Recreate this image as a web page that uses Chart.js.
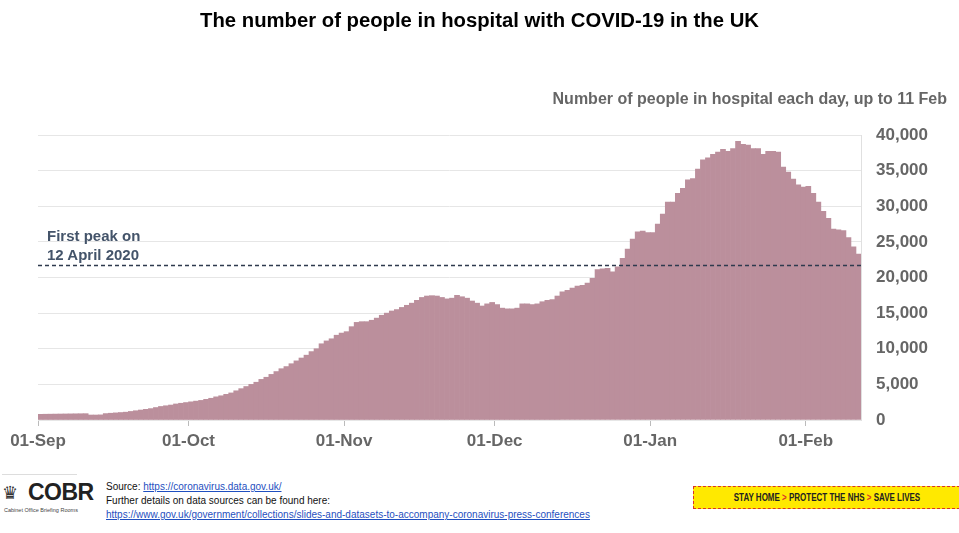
<!DOCTYPE html>
<html>
<head>
<meta charset="utf-8">
<script src="https://cdn.jsdelivr.net/npm/chart.js@4.4.1/dist/chart.umd.min.js"></script>
<style>
  body { margin: 0; width: 959px; height: 533px; background: #fff; font-family: "Liberation Sans", Arial, sans-serif; position: relative; overflow: hidden; }
  #wrap { position: absolute; left: 0; top: 0; width: 959px; height: 460px; }
  .abs { position: absolute; white-space: nowrap; }
  #title { left: 0; width: 959px; top: 9px; text-align: center; font-weight: bold; font-size: 20.3px; color: #000; }
  #subtitle { right: 12px; top: 90px; font-weight: bold; font-size: 16px; color: #666; }
  #peak { left: 47px; top: 226px; font-weight: bold; font-size: 15px; line-height: 19px; color: #44546a; }
  #source { left: 106px; top: 480px; font-size: 10px; line-height: 14px; color: #111; }
  #source a { color: #1f4fc0; text-decoration: underline; }
  #cobr { left: 2px; top: 478px; }
  #banner { left: 693px; top: 486px; width: 266px; height: 21px; background: #ffe900; border-top: 1.5px dashed #d8322a; border-bottom: 1.5px dashed #d8322a; border-left: 1.5px dashed #d8322a; }
  #banner div { position: absolute; left: 0; width: 266px; top: 0; line-height: 21px; text-align: center; font-weight: bold; font-size: 10px; color: #222; transform: scaleX(0.8); }
  #banner span { color: #d8322a; }
</style>
</head>
<body>
<div id="wrap"><canvas id="hospitalChart"></canvas></div>
<div class="abs" id="title">The number of people in hospital with COVID-19 in the UK</div>
<div class="abs" id="subtitle">Number of people in hospital each day, up to 11 Feb</div>
<div class="abs" id="peak">First peak on<br>12 April 2020</div>
<div class="abs" id="cobr">
  <div style="position:absolute;left:0;top:-4px;width:75px;border-top:1px solid #ddd;"></div>
  <div style="position:absolute;left:0;top:4px;font-size:18px;color:#333;">&#9819;</div>
  <div style="position:absolute;left:26px;top:1px;font-weight:bold;font-size:23px;color:#222;letter-spacing:-0.5px;">COBR</div>
  <div style="position:absolute;left:2px;top:29px;font-size:5.5px;color:#444;">Cabinet Office Briefing Rooms</div>
</div>
<div class="abs" id="source">
  Source: <a>https://coronavirus.data.gov.uk/</a><br>
  Further details on data sources can be found here:<br>
  <a>https://www.gov.uk/government/collections/slides-and-datasets-to-accompany-coronavirus-press-conferences</a>
</div>
<div class="abs" id="banner"><div>STAY HOME <span>&gt;</span> PROTECT THE NHS <span>&gt;</span> SAVE LIVES</div></div>

<script>
// daily patients in hospital, 01-Sep to 11-Feb
const sepValues = [800, 810, 820, 830, 840, 850, 860, 870, 880, 890, 700, 700, 720, 900, 950, 1000, 1050, 1100, 1200, 1300,
                   1400, 1500, 1600, 1750, 1900, 2000, 2100, 2250, 2350, 2450];
const octValues = [2550, 2650, 2750, 2900, 3050, 3250, 3400, 3600, 3800, 4100, 4400, 4700, 5000, 5300, 5700, 6000, 6400, 6800,
                   7200, 7500, 7900, 8300, 8700, 9100, 9600, 10000, 10700, 11100, 11400, 11900, 12200];
const novValues = [12400, 13100, 13700, 13800, 13800, 14000, 14300, 14700, 15000, 15300, 15500, 15800, 16100, 16400, 16800,
                   17200, 17400, 17450, 17400, 17200, 17000, 17100, 17500, 17300, 17100, 16700, 16400, 16000, 16300, 16500];
const decValues = [16200, 15700, 15600, 15600, 15700, 16300, 16300, 16200, 16300, 16600, 16800, 16900, 17400, 18000, 18200,
                   18500, 18800, 18900, 19200, 19900, 21100, 21200, 21300, 20800, 21500, 22700, 24000, 25400, 26400, 26500, 26300];
const janValues = [26300, 27500, 28900, 30600, 30600, 31800, 32500, 33700, 33900, 35200, 36500, 36800, 37300, 37600, 38000,
                   37700, 38100, 39100, 38700, 38600, 38100, 38100, 37300, 37700, 37700, 37600, 35500, 34800, 33800, 33000, 32700];
const febValues = [32800, 31800, 30600, 29300, 28300, 26800, 26700, 26600, 25600, 24300, 23300];

const monthLabels = ['01-Sep', '01-Oct', '01-Nov', '01-Dec', '01-Jan', '01-Feb'];
const monthStarts = [0, 30, 61, 91, 122, 153];
const yTicks = [0, 5000, 10000, 15000, 20000, 25000, 30000, 35000, 40000];
const firstPeak = 21683;

const hospitalValues = [].concat(sepValues, octValues, novValues, decValues, janValues, febValues);
const barPoints = hospitalValues.map((v, i) => ({ x: i + 0.5, y: v }));

const tickFont = { family: "'Liberation Sans', Arial, sans-serif", size: 17, weight: 'bold' };

new Chart(document.getElementById('hospitalChart'), {
    type: 'bar',
    data: {
        datasets: [{
            type: 'line',
            data: [{ x: 0, y: firstPeak }, { x: hospitalValues.length, y: firstPeak }],
            borderColor: '#2e3a4e',
            borderWidth: 1.3,
            borderDash: [4, 3],
            pointRadius: 0,
            order: 0
        }, {
            data: barPoints,
            backgroundColor: '#bb8f9c',
            barPercentage: 1,
            categoryPercentage: 1,
            borderWidth: 0,
            order: 1
        }]
    },
    options: {
        responsive: true,
        maintainAspectRatio: false,
        animation: false,
        layout: { padding: { left: 38, top: 135, right: 0, bottom: 0 } },
        plugins: {
            legend: { display: false },
            tooltip: { enabled: false }
        },
        scales: {
            x: {
                type: 'linear',
                min: 0,
                max: hospitalValues.length,
                offset: false,
                afterBuildTicks: axis => { axis.ticks = monthStarts.map(v => ({ value: v })); },
                afterFit: axis => { axis.height = 40; },
                ticks: {
                    color: '#666',
                    font: tickFont,
                    padding: 5,
                    maxRotation: 0,
                    autoSkip: false,
                    callback: v => monthLabels[monthStarts.indexOf(v)]
                },
                grid: { drawOnChartArea: false, offset: false, tickLength: 6, color: '#bbb' },
                border: { display: false }
            },
            y: {
                position: 'right',
                min: 0,
                max: 40000,
                afterBuildTicks: axis => { axis.ticks = yTicks.map(v => ({ value: v })); },
                afterFit: axis => { axis.width = 98; },
                ticks: {
                    color: '#666',
                    font: tickFont,
                    padding: 15,
                    callback: v => v.toLocaleString('en-GB')
                },
                grid: { color: '#e6e6e6', drawTicks: false },
                border: { display: true, color: '#e0e0e0' }
            }
        }
    }
});
</script>
</body>
</html>
